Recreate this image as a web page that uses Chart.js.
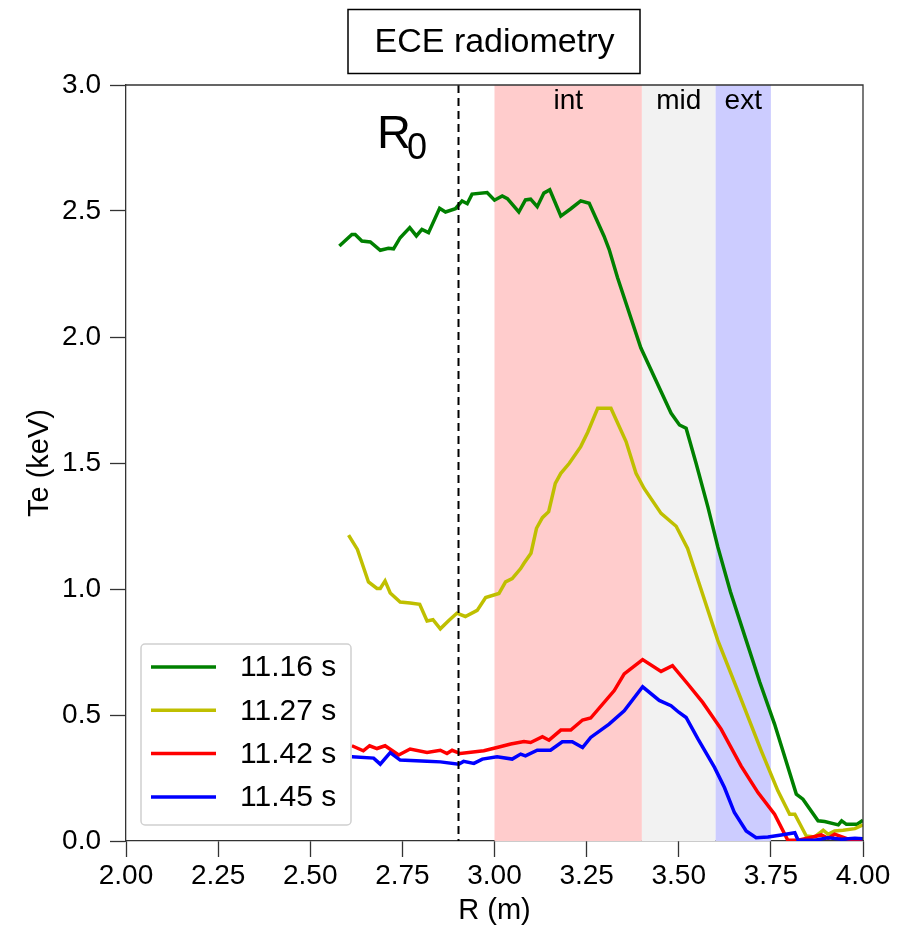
<!DOCTYPE html>
<html>
<head>
<meta charset="utf-8">
<script src="https://cdn.jsdelivr.net/npm/chart.js@4/dist/chart.umd.min.js"></script>
<style>
  html, body { margin: 0; padding: 0; background: #fff; }
  #wrap { width: 903px; height: 930px; }
</style>
</head>
<body>
<div id="wrap"><canvas id="c" width="903" height="930"></canvas></div>
<script>
// ECE radiometry profiles, Te (keV) vs R (m)
const seriesLabels = ["11.16 s", "11.27 s", "11.42 s", "11.45 s"];
const seriesColors = ["#008000", "#bfbf00", "#ff0000", "#0000ff"];

const rGreen = [2.579, 2.613, 2.622, 2.640, 2.663, 2.690, 2.712, 2.726, 2.744, 2.770, 2.788, 2.803, 2.821, 2.851, 2.867, 2.894, 2.912, 2.926, 2.939, 2.980, 3.000, 3.021, 3.035, 3.066, 3.084, 3.098, 3.116, 3.134, 3.150, 3.180, 3.207, 3.234, 3.257, 3.297, 3.311, 3.334, 3.397, 3.479, 3.502, 3.520, 3.547, 3.579, 3.606, 3.640, 3.683, 3.720, 3.760, 3.819, 3.837, 3.878, 3.896, 3.933, 3.942, 3.955, 3.983, 4.000];
const teGreen = [2.361, 2.407, 2.407, 2.381, 2.377, 2.344, 2.352, 2.350, 2.394, 2.434, 2.401, 2.427, 2.414, 2.511, 2.496, 2.509, 2.540, 2.529, 2.567, 2.573, 2.543, 2.560, 2.549, 2.496, 2.544, 2.547, 2.517, 2.571, 2.584, 2.480, 2.509, 2.540, 2.531, 2.401, 2.348, 2.235, 1.957, 1.698, 1.651, 1.638, 1.499, 1.326, 1.167, 0.990, 0.796, 0.630, 0.464, 0.186, 0.166, 0.080, 0.077, 0.064, 0.080, 0.066, 0.066, 0.082];

const rYellow = [2.604, 2.628, 2.658, 2.681, 2.690, 2.703, 2.717, 2.744, 2.771, 2.797, 2.817, 2.833, 2.853, 2.876, 2.898, 2.921, 2.953, 2.976, 3.012, 3.030, 3.048, 3.071, 3.080, 3.099, 3.114, 3.130, 3.147, 3.165, 3.180, 3.203, 3.234, 3.253, 3.280, 3.316, 3.357, 3.384, 3.406, 3.452, 3.493, 3.524, 3.606, 3.660, 3.724, 3.769, 3.801, 3.815, 3.846, 3.869, 3.892, 3.905, 3.923, 3.946, 3.978, 4.000];
const teYellow = [1.214, 1.157, 1.028, 1.002, 1.002, 1.032, 0.984, 0.948, 0.944, 0.939, 0.873, 0.878, 0.842, 0.875, 0.904, 0.891, 0.915, 0.966, 0.982, 1.028, 1.041, 1.081, 1.102, 1.142, 1.241, 1.283, 1.307, 1.419, 1.459, 1.499, 1.565, 1.622, 1.717, 1.717, 1.585, 1.459, 1.399, 1.300, 1.249, 1.161, 0.796, 0.597, 0.358, 0.199, 0.106, 0.106, 0.020, 0.016, 0.043, 0.027, 0.040, 0.043, 0.049, 0.064];

const rRed = [2.613, 2.644, 2.661, 2.681, 2.703, 2.740, 2.771, 2.817, 2.853, 2.871, 2.885, 2.907, 2.971, 3.007, 3.044, 3.080, 3.098, 3.130, 3.148, 3.180, 3.207, 3.239, 3.261, 3.325, 3.352, 3.402, 3.452, 3.483, 3.524, 3.565, 3.615, 3.669, 3.715, 3.760, 3.796, 3.824, 3.855, 3.887, 3.905, 3.923, 3.960, 4.000];
const teRed = [0.378, 0.358, 0.378, 0.367, 0.378, 0.341, 0.365, 0.351, 0.360, 0.347, 0.360, 0.347, 0.358, 0.371, 0.385, 0.395, 0.391, 0.414, 0.400, 0.440, 0.440, 0.480, 0.488, 0.597, 0.663, 0.720, 0.673, 0.696, 0.624, 0.550, 0.444, 0.298, 0.192, 0.106, 0.003, 0.003, 0.013, 0.024, 0.011, 0.027, 0.007, 0.007];

const rBlue = [2.613, 2.672, 2.690, 2.717, 2.744, 2.817, 2.853, 2.903, 2.916, 2.944, 2.967, 3.007, 3.048, 3.071, 3.084, 3.116, 3.152, 3.184, 3.211, 3.239, 3.261, 3.311, 3.352, 3.402, 3.447, 3.479, 3.500, 3.520, 3.552, 3.597, 3.624, 3.651, 3.683, 3.710, 3.742, 3.778, 3.815, 3.824, 3.869, 3.905, 3.942, 3.978, 4.000];
const teBlue = [0.334, 0.329, 0.305, 0.351, 0.321, 0.316, 0.314, 0.305, 0.316, 0.308, 0.325, 0.334, 0.325, 0.345, 0.338, 0.360, 0.360, 0.394, 0.394, 0.371, 0.411, 0.464, 0.517, 0.612, 0.558, 0.537, 0.511, 0.490, 0.405, 0.292, 0.212, 0.113, 0.040, 0.013, 0.016, 0.024, 0.033, 0.003, 0.003, 0.013, 0.007, 0.011, 0.009];

// shaded regions
const bandNames = ["int", "mid", "ext"];
const bandStart = [3.0, 3.4, 3.6];
const bandEnd = [3.4, 3.6, 3.75];
const bandColors = ["#ffcccc", "#f2f2f2", "#ccccff"];
const r0 = 2.9;

const xTicks = [2.0, 2.25, 2.5, 2.75, 3.0, 3.25, 3.5, 3.75, 4.0];
const yTicks = [0.0, 0.5, 1.0, 1.5, 2.0, 2.5, 3.0];

const FONT = "'Liberation Sans', Arial, Helvetica, sans-serif";
const AXIS = "#333";

function pts(xs, ys) {
  return xs.map((x, i) => ({ x: x, y: ys[i] }));
}

const allR = [rGreen, rYellow, rRed, rBlue];
const allTe = [teGreen, teYellow, teRed, teBlue];

// bands + labels under the curves, dashed R0 line, frame, legend, title on top
const decor = {
  id: "decor",
  beforeDatasetsDraw(chart) {
    const { ctx, chartArea: a, scales: { x } } = chart;
    ctx.save();
    bandNames.forEach((name, i) => {
      const x0 = x.getPixelForValue(bandStart[i]);
      const x1 = x.getPixelForValue(bandEnd[i]);
      ctx.fillStyle = bandColors[i];
      ctx.fillRect(x0, a.top, x1 - x0, a.bottom - a.top);
    });
    ctx.fillStyle = "#000";
    ctx.font = "28px " + FONT;
    ctx.textAlign = "center";
    ctx.textBaseline = "alphabetic";
    bandNames.forEach((name, i) => {
      const xc = x.getPixelForValue((bandStart[i] + bandEnd[i]) / 2);
      ctx.fillText(name, xc, a.top + 24);
    });
    ctx.restore();
  },
  afterDatasetsDraw(chart) {
    const { ctx, chartArea: a, scales: { x } } = chart;
    ctx.save();
    // R0 dashed line
    const xr = Math.round(x.getPixelForValue(r0)) + 0.5;
    ctx.strokeStyle = "#000";
    ctx.lineWidth = 2;
    ctx.setLineDash([8, 5]);
    ctx.beginPath();
    ctx.moveTo(xr, a.top);
    ctx.lineTo(xr, a.bottom);
    ctx.stroke();
    ctx.setLineDash([]);

    // R0 label
    ctx.fillStyle = "#000";
    ctx.textAlign = "left";
    ctx.textBaseline = "alphabetic";
    ctx.font = "47px " + FONT;
    ctx.fillText("R", 377, 148);
    ctx.font = "36px " + FONT;
    ctx.fillText("0", 407, 159);

    // top and right frame
    ctx.strokeStyle = AXIS;
    ctx.lineWidth = 1.3;
    ctx.beginPath();
    ctx.moveTo(a.left, a.top);
    ctx.lineTo(a.right, a.top);
    ctx.lineTo(a.right, a.bottom);
    ctx.stroke();

    // legend
    const lx = 141, ly = 644, lw = 210, lh = 181;
    ctx.fillStyle = "rgba(255,255,255,0.8)";
    ctx.strokeStyle = "#d0d0d0";
    ctx.lineWidth = 1.5;
    ctx.beginPath();
    ctx.roundRect(lx, ly, lw, lh, 4);
    ctx.fill();
    ctx.stroke();
    ctx.font = "30px " + FONT;
    ctx.textBaseline = "middle";
    seriesLabels.forEach((lab, i) => {
      const yy = 667 + i * 43.3;
      ctx.strokeStyle = seriesColors[i];
      ctx.lineWidth = 3.5;
      ctx.beginPath();
      ctx.moveTo(151, yy);
      ctx.lineTo(216, yy);
      ctx.stroke();
      ctx.fillStyle = "#000";
      ctx.fillText(lab, 240, yy + 1);
    });

    // title box
    const cx = (a.left + a.right) / 2;
    ctx.fillStyle = "#fff";
    ctx.strokeStyle = "#000";
    ctx.lineWidth = 1.5;
    ctx.fillRect(348, 9.5, 292, 64);
    ctx.strokeRect(348, 9.5, 292, 64);
    ctx.fillStyle = "#000";
    ctx.textAlign = "center";
    ctx.textBaseline = "middle";
    ctx.font = "34px " + FONT;
    ctx.fillText("ECE radiometry", cx, 43);

    // axis titles
    ctx.font = "29px " + FONT;
    ctx.fillText("R (m)", cx, 911);
    ctx.translate(40, (a.top + a.bottom) / 2);
    ctx.rotate(-Math.PI / 2);
    ctx.fillText("Te (keV)", 0, 0);
    ctx.restore();
  }
};

new Chart(document.getElementById("c"), {
  type: "line",
  data: {
    datasets: seriesLabels.map((lab, i) => ({
      label: lab,
      data: pts(allR[i], allTe[i]),
      borderColor: seriesColors[i],
      borderWidth: 3.5,
      pointRadius: 0,
      tension: 0,
      fill: false,
      order: 3 - i,
    })),
  },
  options: {
    responsive: false,
    animation: false,
    layout: { padding: { top: 85, right: 40, left: 0, bottom: 0 } },
    plugins: {
      legend: { display: false },
      tooltip: { enabled: false },
    },
    scales: {
      x: {
        type: "linear",
        min: 2,
        max: 4,
        afterBuildTicks: (s) => { s.ticks = xTicks.map((v) => ({ value: v })); },
        afterFit: (s) => { s.height = 89; },
        ticks: {
          callback: (v) => v.toFixed(2),
          font: { family: FONT, size: 28 },
          color: "#000",
          padding: 2,
          maxRotation: 0,
        },
        grid: { drawOnChartArea: false, drawTicks: true, tickLength: 16, tickColor: AXIS, tickWidth: 1.3 },
        border: { display: true, color: AXIS, width: 1.3 },
      },
      y: {
        type: "linear",
        min: 0,
        max: 3,
        afterBuildTicks: (s) => { s.ticks = yTicks.map((v) => ({ value: v })); },
        afterFit: (s) => { s.width = 126; },
        ticks: {
          callback: (v) => v.toFixed(1),
          font: { family: FONT, size: 28 },
          color: "#000",
          padding: 9,
        },
        grid: { drawOnChartArea: false, drawTicks: true, tickLength: 16, tickColor: AXIS, tickWidth: 1.3 },
        border: { display: true, color: AXIS, width: 1.3 },
      },
    },
  },
  plugins: [decor],
});
</script>
</body>
</html>
